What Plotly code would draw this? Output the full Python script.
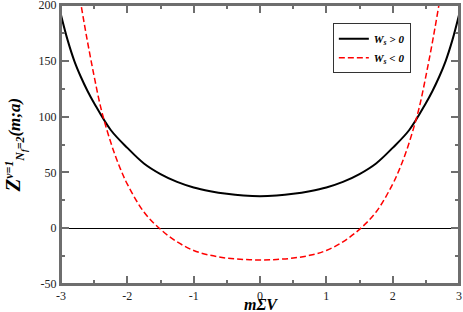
import plotly.graph_objects as go

# Black solid curve (W_s > 0)
black_x = [-3.0, -2.9, -2.8, -2.7, -2.6, -2.5, -2.25, -2.0, -1.75, -1.5, -1.25, -1.0, -0.75, -0.5, -0.25,
           0.0, 0.25, 0.5, 0.75, 1.0, 1.25, 1.5, 1.75, 2.0, 2.25, 2.5, 2.6, 2.7, 2.8, 2.9, 3.0]
black_y = [191, 168.5, 150, 135.5, 123, 112, 88, 72, 58, 48.5, 41.5, 36.5, 33.2, 30.8, 29.3,
           28.7, 29.3, 30.8, 33.2, 36.5, 41.5, 48.5, 58, 72, 88, 112, 123, 135.5, 150, 168.5, 191]

# Red dashed curve (W_s < 0)
red_x = [-2.8, -2.7, -2.6, -2.5, -2.4, -2.3, -2.2, -2.1, -2.0, -1.75, -1.5, -1.25, -1.0, -0.75, -0.5, -0.25,
         0.0, 0.25, 0.5, 0.75, 1.0, 1.25, 1.5, 1.75, 2.0, 2.1, 2.2, 2.3, 2.4, 2.5, 2.6, 2.7, 2.8]
red_y = [238, 201, 167, 136, 108, 86.5, 68, 52.5, 39.5, 14.5, -1, -12.2, -20, -24.3, -26.8, -28,
         -28.5, -28, -26.8, -24.3, -20, -12.2, -1, 14.5, 39.5, 52.5, 68, 86.5, 108, 136, 167, 201, 238]

series_names = ["W<sub>s</sub> &gt; 0", "W<sub>s</sub> &lt; 0"]

x_range = [-3, 3]
y_range = [-50, 200]
x_tickvals = [-3, -2, -1, 0, 1, 2, 3]
x_ticktext = ["-3", "-2", "-1", "0", "1", "2", "3"]
y_tickvals = [-50, 0, 50, 100, 150, 200]
y_ticktext = ["-50", "0", "50", "100", "150", "200"]

x_title = "mΣV"
y_title = "<span style='font-size:21px'>Z</span><sup>ν=1</sup><sub>N<sub>f</sub>=2</sub>(m;a)"

SERIF = "Liberation Serif, Times New Roman, serif"
FRAME = "#6e6e6e"

fig = go.Figure()
fig.add_trace(go.Scatter(x=black_x, y=black_y, mode="lines", name=series_names[0],
                         line=dict(color="black", width=2, shape="spline", smoothing=1.0)))
fig.add_trace(go.Scatter(x=red_x, y=red_y, mode="lines", name=series_names[1],
                         line=dict(color="#ff0000", width=1.5, dash="6px,3px", shape="spline", smoothing=1.0)))

tickfont = dict(family=SERIF, size=12, color="#222")

fig.update_xaxes(range=x_range, tickmode="array", tickvals=x_tickvals, ticktext=x_ticktext,
                 ticks="inside", ticklen=8, tickwidth=2, tickcolor=FRAME,
                 showline=True, linecolor=FRAME, linewidth=2, mirror="ticks",
                 showgrid=False, zeroline=False, tickfont=tickfont,
                 ticklabeloverflow="allow", automargin=False,
                 minor=dict(tickmode="linear", tick0=0, dtick=0.5, ticks="inside", ticklen=4,
                            tickwidth=2, tickcolor=FRAME, showgrid=False))
fig.update_yaxes(range=y_range, tickmode="array", tickvals=y_tickvals, ticktext=y_ticktext,
                 ticks="inside", ticklen=8, tickwidth=2, tickcolor=FRAME,
                 showline=True, linecolor=FRAME, linewidth=2, mirror="ticks",
                 showgrid=False, zeroline=True, zerolinecolor="black", zerolinewidth=1,
                 tickfont=tickfont, ticklabeloverflow="allow", automargin=False,
                 minor=dict(tickmode="linear", tick0=0, dtick=25, ticks="inside", ticklen=4,
                            tickwidth=2, tickcolor=FRAME, showgrid=False))

fig.update_layout(
    width=463, height=312, autosize=False,
    margin=dict(l=61, r=4, t=5, b=28),
    paper_bgcolor="white", plot_bgcolor="white",
    showlegend=True,
    shapes=[dict(type="rect", xref="paper", yref="paper", x0=0, x1=1, y0=0, y1=1,
                 line=dict(color=FRAME, width=2), layer="above")],
    legend=dict(x=0.781, xanchor="center", y=0.935, yanchor="top",
                bgcolor="white", bordercolor="#333", borderwidth=1,
                font=dict(family=SERIF, size=11, color="black", weight="bold", style="italic"),
                tracegroupgap=0),
    annotations=[
        dict(text=x_title, xref="paper", yref="paper", x=0.5025, y=-0.073,
             xanchor="center", yanchor="middle", showarrow=False,
             font=dict(family=SERIF, size=16, color="black", weight="bold", style="italic")),
        dict(text=y_title, xref="paper", yref="paper", x=-0.1156, y=0.5,
             xanchor="center", yanchor="middle", showarrow=False, textangle=-90,
             font=dict(family=SERIF, size=17, color="black", weight="bold", style="italic")),
    ],
)

fig.write_html("out.html", config={"displayModeBar": False},
               post_script="document.body.style.margin='0';document.body.style.overflow='hidden';")
